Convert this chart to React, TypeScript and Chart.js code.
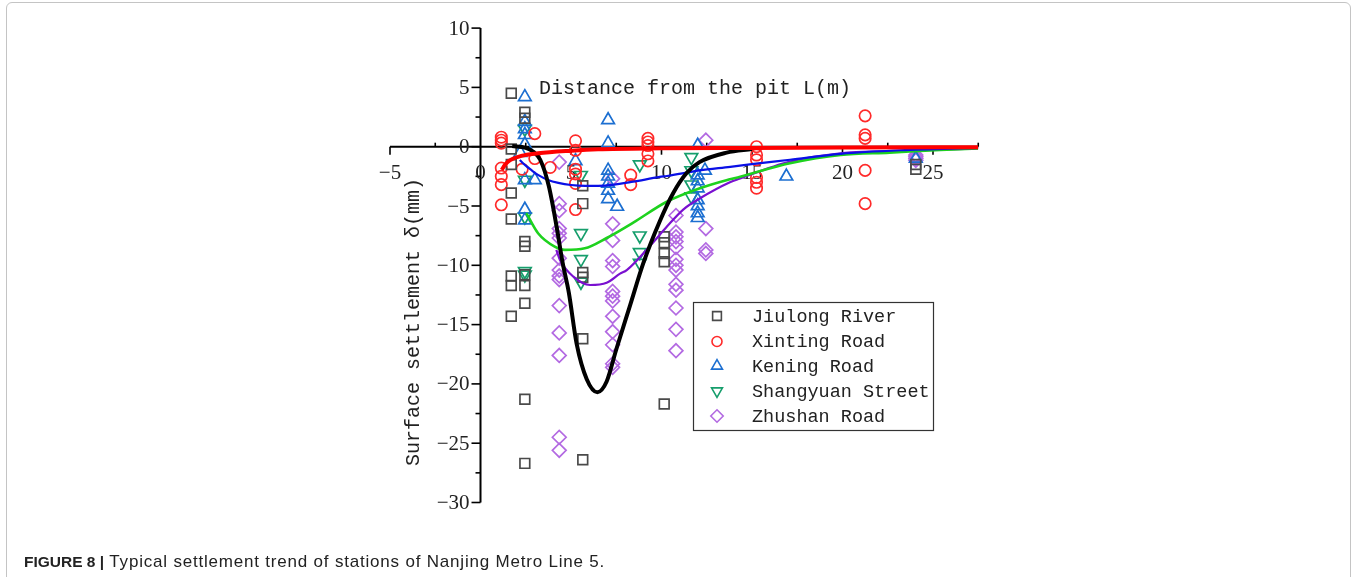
import React, { useEffect, useRef } from 'react';
import { Chart, registerables } from 'chart.js';

Chart.register(...registerables);

// ---------- data ----------
const seriesNames = ['Jiulong River', 'Xinting Road', 'Kening Road', 'Shangyuan Street', 'Zhushan Road'];

const xTicks = [-5, 0, 5, 10, 15, 20, 25];
const yTicks = [-30, -25, -20, -15, -10, -5, 0, 5, 10];

const jiulongX = [1.7, 1.7, 1.7, 1.7, 1.7, 1.7, 1.7, 1.7, 2.45, 2.45, 2.45, 2.45, 2.45, 2.45, 2.45, 2.45, 2.45, 5.65, 5.65, 5.65, 5.65, 5.65, 5.65, 10.15, 10.15, 10.15, 10.15, 10.15, 24.05, 24.05];
const jiulongY = [4.5, -0.2, -1.5, -3.9, -6.1, -10.9, -11.7, -14.3, 2.9, 2.4, -8.0, -8.4, -10.8, -11.7, -13.2, -21.3, -26.7, -3.3, -4.8, -10.6, -11.0, -16.2, -26.4, -7.6, -8.1, -9.0, -9.7, -21.7, -1.5, -1.9];

const xintingX = [1.15, 1.15, 1.15, 1.15, 1.15, 1.15, 1.15, 2.3, 3.0, 3.0, 3.85, 5.25, 5.25, 5.25, 5.25, 5.25, 5.25, 8.3, 8.3, 9.25, 9.25, 9.25, 9.25, 9.25, 15.25, 15.25, 15.25, 15.25, 15.25, 15.25, 21.25, 21.25, 21.25, 21.25, 21.25];
const xintingY = [0.8, 0.55, 0.3, -1.8, -2.5, -3.2, -4.9, -1.9, 1.1, -1.0, -1.75, 0.5, -0.3, -1.9, -2.3, -3.1, -5.3, -2.4, -3.2, 0.7, 0.4, 0.1, -0.6, -1.2, 0.0, -0.7, -1.1, -2.6, -3.0, -3.5, 2.6, 1.0, 0.7, -2.0, -4.8];

const keningX = [2.2, 2.45, 2.45, 2.45, 2.45, 2.45, 2.45, 2.45, 2.45, 3.0, 5.25, 7.05, 7.05, 7.05, 7.05, 7.05, 7.05, 7.05, 7.55, 12.0, 12.0, 12.0, 12.0, 12.0, 12.0, 12.0, 12.0, 12.4, 16.9, 24.05];
const keningY = [-0.5, 4.2, 2.1, 1.5, 1.0, 0.2, -2.8, -5.3, -6.2, -2.8, -1.2, 2.25, 0.3, -2.0, -2.5, -3.1, -3.7, -4.4, -5.05, 0.1, -2.4, -2.9, -3.5, -4.5, -5.0, -5.6, -6.0, -2.0, -2.5, -1.0];

const shangyuanX = [2.45, 2.45, 2.45, 2.45, 2.45, 5.55, 5.55, 5.55, 5.55, 8.8, 8.8, 8.8, 8.8, 11.65, 11.65, 11.65, 11.65];
const shangyuanY = [1.5, -2.8, -5.9, -10.5, -10.8, -2.4, -7.3, -9.5, -11.4, -1.5, -7.5, -8.9, -9.8, -0.9, -2.0, -3.2, -4.2];

const zhushanX = [4.35, 4.35, 4.35, 4.35, 4.35, 4.35, 4.35, 4.35, 4.35, 4.35, 4.35, 4.35, 4.35, 4.35, 4.35, 7.3, 7.3, 7.3, 7.3, 7.3, 7.3, 7.3, 7.3, 7.3, 7.3, 7.3, 7.3, 7.3, 10.8, 10.8, 10.8, 10.8, 10.8, 10.8, 10.8, 10.8, 10.8, 10.8, 10.8, 10.8, 10.8, 12.45, 12.45, 12.45, 12.45, 24.05, 24.05, 24.05, 24.05];
const zhushanY = [-1.3, -4.8, -5.4, -6.9, -7.3, -7.7, -9.4, -10.4, -10.9, -11.2, -13.4, -15.7, -17.6, -24.5, -25.6, -2.7, -6.5, -7.9, -9.6, -10.1, -12.2, -12.6, -13.0, -14.3, -15.6, -16.7, -18.3, -18.6, -5.8, -7.2, -7.6, -8.0, -8.5, -9.5, -10.0, -10.4, -11.6, -12.1, -13.6, -15.4, -17.2, 0.55, -6.9, -8.7, -9.0, -0.7, -0.85, -1.0, -1.15];

// fitted trend curves
const jiulongFitX = [1.75, 2.5, 2.9, 3.3, 3.77, 4.2, 4.54, 4.88, 5.31, 5.87, 6.46, 6.97, 7.5, 8.26, 9.0, 9.9, 10.65, 11.4, 12.1, 13.6, 15.0];
const jiulongFitY = [0.05, -0.1, -0.4, -1.1, -3.3, -6.7, -9.8, -12.3, -16.6, -19.6, -20.7, -19.8, -17.1, -13.4, -9.8, -6.3, -3.9, -2.2, -1.3, -0.5, -0.2];

const xintingFitX = [1.17, 1.35, 1.52, 2.25, 3.18, 5.02, 6.49, 10, 15, 20, 27.5];
const xintingFitY = [-1.96, -1.55, -1.26, -0.78, -0.56, -0.34, -0.22, -0.14, -0.1, -0.07, -0.05];

const keningFitX = [2.17, 2.5, 2.8, 3.2, 3.73, 4.3, 5.0, 5.8, 6.5, 7.3, 8.44, 9.9, 10.3, 12.1, 13.8, 15.1, 17.1, 19.9, 23.2, 27.5];
const keningFitY = [-1.12, -1.6, -1.96, -2.4, -2.8, -3.05, -3.23, -3.3, -3.3, -3.22, -2.95, -2.55, -2.47, -2.0, -1.7, -1.45, -1.1, -0.6, -0.3, -0.1];

const shangyuanFitX = [2.53, 3.18, 4.1, 4.65, 5.76, 6.97, 8.44, 10.29, 12.13, 13.78, 14.3, 17.1, 19.9, 22.6, 25.4, 27.5];
const shangyuanFitY = [-5.6, -7.3, -8.43, -8.7, -8.57, -7.7, -6.4, -4.64, -3.5, -2.75, -2.55, -1.4, -0.7, -0.5, -0.28, -0.15];

const zhushanFitX = [4.19, 4.39, 5.13, 6.05, 6.97, 7.71, 8.08, 9.4, 10.29, 11.2, 12.13, 13.78, 14.3, 17.1, 19.9, 24.1, 27.5];
const zhushanFitY = [-8.7, -9.55, -10.96, -11.66, -11.47, -10.7, -10.4, -8.3, -6.75, -5.3, -4.35, -3.0, -2.7, -1.26, -0.55, -0.3, -0.15];

// ---------- styles ----------
const markerColors = ['#4a4a4a', '#ff2a2a', '#1c6fd1', '#169e6c', '#b36ae2'];
const markerStyles = ['rect', 'circle', 'triangle', 'triangleDown', 'rectRot'];
const curveColors = ['#000000', '#ff0000', '#0a10e6', '#1ed21e', '#7a10d0'];

const pts = (xs: number[], ys: number[]) => xs.map((x, i) => ({ x, y: ys[i] }));
const fmt = (v: number) => (v < 0 ? '\u2212' + Math.abs(v) : String(v));

function drawMarker(ctx: CanvasRenderingContext2D, style: string, x: number, y: number, r: number) {
  ctx.beginPath();
  if (style === 'rect') {
    const s = r * Math.SQRT1_2;
    ctx.rect(x - s, y - s, 2 * s, 2 * s);
  } else if (style === 'circle') {
    ctx.arc(x, y, r, 0, Math.PI * 2);
  } else if (style === 'triangle' || style === 'triangleDown') {
    const sgn = style === 'triangle' ? 1 : -1;
    for (let k = 0; k < 3; k++) {
      const a = (k * 2 * Math.PI) / 3;
      const px = x + Math.sin(a) * r;
      const py = y - sgn * Math.cos(a) * r;
      if (k === 0) ctx.moveTo(px, py);
      else ctx.lineTo(px, py);
    }
    ctx.closePath();
  } else {
    ctx.moveTo(x, y - r);
    ctx.lineTo(x + r, y);
    ctx.lineTo(x, y + r);
    ctx.lineTo(x - r, y);
    ctx.closePath();
  }
  ctx.stroke();
}

const axesPlugin = {
  id: 'customAxes',
  beforeDatasetsDraw(chart: any) {
    const ctx: CanvasRenderingContext2D = chart.ctx;
    const xs = chart.scales.x;
    const ys = chart.scales.y;
    const x0 = xs.getPixelForValue(0);
    const y0 = ys.getPixelForValue(0);
    ctx.save();
    ctx.strokeStyle = '#000';
    ctx.lineWidth = 2;
    ctx.beginPath();
    ctx.moveTo(x0, ys.getPixelForValue(ys.max));
    ctx.lineTo(x0, ys.getPixelForValue(ys.min));
    ctx.moveTo(xs.getPixelForValue(xs.min), y0);
    ctx.lineTo(xs.getPixelForValue(xs.max), y0);
    ctx.stroke();

    ctx.lineWidth = 1.6;
    ctx.fillStyle = '#222';
    ctx.font = '21px "Liberation Serif", serif';
    // y ticks
    ctx.textAlign = 'right';
    ctx.textBaseline = 'middle';
    yTicks.forEach((v, i) => {
      const py = ys.getPixelForValue(v);
      ctx.beginPath();
      ctx.moveTo(x0 - 9, py);
      ctx.lineTo(x0, py);
      ctx.stroke();
      ctx.fillText(fmt(v), x0 - 11, py + 1);
      if (i < yTicks.length - 1) {
        const pm = ys.getPixelForValue(v + 2.5);
        ctx.beginPath();
        ctx.moveTo(x0 - 5, pm);
        ctx.lineTo(x0, pm);
        ctx.stroke();
      }
    });
    // x ticks
    ctx.textAlign = 'center';
    xTicks.forEach((v) => {
      const px = xs.getPixelForValue(v);
      if (v !== 0) {
        ctx.beginPath();
        ctx.moveTo(px, y0);
        ctx.lineTo(px, y0 + 8);
        ctx.stroke();
      }
      ctx.fillText(fmt(v), px, y0 + 27);
      const pm = xs.getPixelForValue(v + 2.5);
      if (v + 2.5 <= xs.max) {
        ctx.beginPath();
        ctx.moveTo(pm, y0);
        ctx.lineTo(pm, y0 - 4);
        ctx.stroke();
      }
    });
    ctx.restore();
  },
  afterDraw(chart: any) {
    const ctx: CanvasRenderingContext2D = chart.ctx;
    ctx.save();
    ctx.fillStyle = '#222';
    // axis titles
    ctx.font = '20px "Liberation Mono", monospace';
    ctx.textAlign = 'left';
    ctx.textBaseline = 'middle';
    ctx.fillText('Distance from the pit L(m)', 539, 89);
    ctx.save();
    ctx.translate(414, 322);
    ctx.rotate(-Math.PI / 2);
    ctx.textAlign = 'center';
    ctx.fillText('Surface settlement \u03b4(mm)', 0, 0);
    ctx.restore();

    // legend
    ctx.strokeStyle = '#333';
    ctx.lineWidth = 1.2;
    ctx.strokeRect(693.5, 302.5, 240, 128);
    ctx.font = '18.5px "Liberation Mono", monospace';
    const rows = [316, 341.5, 366, 391, 416];
    const legendR = [6.2, 5.0, 6.3, 6.3, 6.2];
    seriesNames.forEach((name, i) => {
      ctx.strokeStyle = markerColors[i];
      ctx.lineWidth = 1.6;
      drawMarker(ctx, markerStyles[i], 717, rows[i], legendR[i]);
      ctx.fillStyle = '#222';
      ctx.fillText(name, 752, rows[i] + 1);
    });
    ctx.restore();
  },
};

export default function App() {
  const canvasRef = useRef<HTMLCanvasElement | null>(null);

  useEffect(() => {
    if (!canvasRef.current) return;
    const scatterData = [
      [jiulongX, jiulongY],
      [xintingX, xintingY],
      [keningX, keningY],
      [shangyuanX, shangyuanY],
      [zhushanX, zhushanY],
    ];
    const fitData = [
      [jiulongFitX, jiulongFitY],
      [xintingFitX, xintingFitY],
      [keningFitX, keningFitY],
      [shangyuanFitX, shangyuanFitY],
      [zhushanFitX, zhushanFitY],
    ];
    const radii = [6.9, 5.7, 7.3, 7.3, 6.9];
    const fitWidths = [4, 4, 2.2, 2.6, 2.2];
    const fitOrder = [2, 1, 3, 4, 5];

    const datasets: any[] = [];
    scatterData.forEach(([xs, ys], i) => {
      datasets.push({
        type: 'scatter',
        label: seriesNames[i],
        data: pts(xs as number[], ys as number[]),
        pointStyle: markerStyles[i] === 'triangleDown' ? 'triangle' : markerStyles[i],
        pointRotation: markerStyles[i] === 'triangleDown' ? 180 : 0,
        pointRadius: radii[i],
        pointBorderWidth: 1.7,
        pointBorderColor: markerColors[i],
        pointBackgroundColor: 'rgba(0,0,0,0)',
        borderColor: markerColors[i],
        backgroundColor: 'rgba(0,0,0,0)',
        showLine: false,
        order: 10 + i,
      });
    });
    fitData.forEach(([xs, ys], i) => {
      datasets.push({
        type: 'line',
        label: seriesNames[i] + ' fit',
        data: pts(xs as number[], ys as number[]),
        borderColor: curveColors[i],
        borderWidth: fitWidths[i],
        pointRadius: 0,
        fill: false,
        cubicInterpolationMode: 'monotone',
        order: fitOrder[i],
      });
    });

    const chart = new Chart(canvasRef.current, {
      type: 'scatter',
      data: { datasets },
      options: {
        responsive: false,
        animation: false,
        devicePixelRatio: 1,
        layout: {
          autoPadding: false,
          padding: { left: 390, right: 380.75, top: 28.1, bottom: 74.5 },
        },
        scales: {
          x: { type: 'linear', min: -5, max: 27.5, display: false },
          y: { type: 'linear', min: -30, max: 10, display: false },
        },
        plugins: {
          legend: { display: false },
          tooltip: { enabled: false },
        },
      } as any,
      plugins: [axesPlugin],
    });
    return () => chart.destroy();
  }, []);

  return (
    <div style={{ position: 'absolute', left: 0, top: 0, width: 1359, height: 577, background: '#fff', overflow: 'hidden' }}>
      <div
        style={{
          position: 'absolute',
          left: 6,
          top: 2,
          width: 1345,
          height: 600,
          border: '1px solid #c4c4c4',
          borderRadius: 6,
          boxSizing: 'border-box',
        }}
      />
      <canvas ref={canvasRef} width={1359} height={577} style={{ position: 'absolute', left: 0, top: 0, display: 'block' }} />
      <div
        style={{
          position: 'absolute',
          left: 24,
          top: 554,
          fontFamily: '"Liberation Sans", Arial, sans-serif',
          fontSize: 15.5,
          lineHeight: '16px',
          color: '#222',
          whiteSpace: 'nowrap',
        }}
      >
        <b>FIGURE 8 |</b>
        <span style={{ fontSize: 17, letterSpacing: '0.8px' }}> Typical settlement trend of stations of Nanjing Metro Line 5.</span>
      </div>
    </div>
  );
}
